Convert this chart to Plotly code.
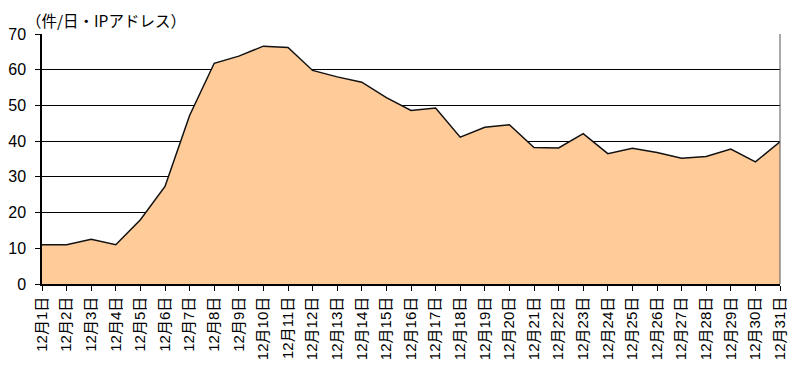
import plotly.graph_objects as go

days = [f"12月{d}日" for d in range(1, 32)]
values = [11.0, 11.0, 12.5, 11.0, 18.0, 27.3, 47.2, 61.8, 63.8, 66.6,
          66.2, 59.8, 58.0, 56.5, 52.2, 48.6, 49.3, 41.1, 43.9, 44.6,
          38.2, 38.1, 42.1, 36.5, 38.0, 36.8, 35.2, 35.7, 37.8, 34.2, 39.8]
y_ticks = [0, 10, 20, 30, 40, 50, 60, 70]
y_title = "（件/日・IPアドレス）"

FONT = "Liberation Sans, Arial, Noto Sans CJK JP, sans-serif"

fig = go.Figure()
fig.add_trace(go.Scatter(
    x=list(range(len(days))), y=values,
    mode="lines", fill="tozeroy",
    fillcolor="#FFCC99",
    line=dict(color="#111111", width=1.5),
    hoverinfo="skip",
))

fig.update_layout(
    width=800, height=381,
    margin=dict(l=34, r=28, t=26, b=105),
    paper_bgcolor="white", plot_bgcolor="white",
    showlegend=False,
    font=dict(family=FONT, color="black"),
    annotations=[dict(
        text=y_title, xref="paper", yref="paper",
        x=-0.024, y=1.0, xanchor="left", yanchor="bottom",
        yshift=1, showarrow=False,
        font=dict(family="Noto Sans CJK JP, sans-serif", size=15.5, color="black"),
    )],
)
fig.update_xaxes(
    range=[0, len(days) - 1], automargin=False,
    tickmode="array", tickvals=list(range(len(days))), ticktext=days,
    tickangle=-90, tickfont=dict(size=15, family=FONT),
    ticks="outside", ticklen=5, tickcolor="black",
    showline=True, linecolor="black", linewidth=1.5,
    showgrid=False, zeroline=False, mirror=False,
)
fig.update_yaxes(
    range=[0, 70], tickvals=y_ticks, automargin=False,
    tickfont=dict(size=16, family=FONT),
    ticks="outside", ticklen=5, tickcolor="black",
    ticklabelstandoff=6,
    showline=True, linecolor="black", linewidth=1.5,
    showgrid=True, gridcolor="black", gridwidth=1.2,
    zeroline=False,
)
# right border line like the reference
fig.add_shape(type="line", xref="paper", yref="paper", x0=1, x1=1, y0=0, y1=1,
              line=dict(color="#555555", width=1))

fig.write_html("out.html")
